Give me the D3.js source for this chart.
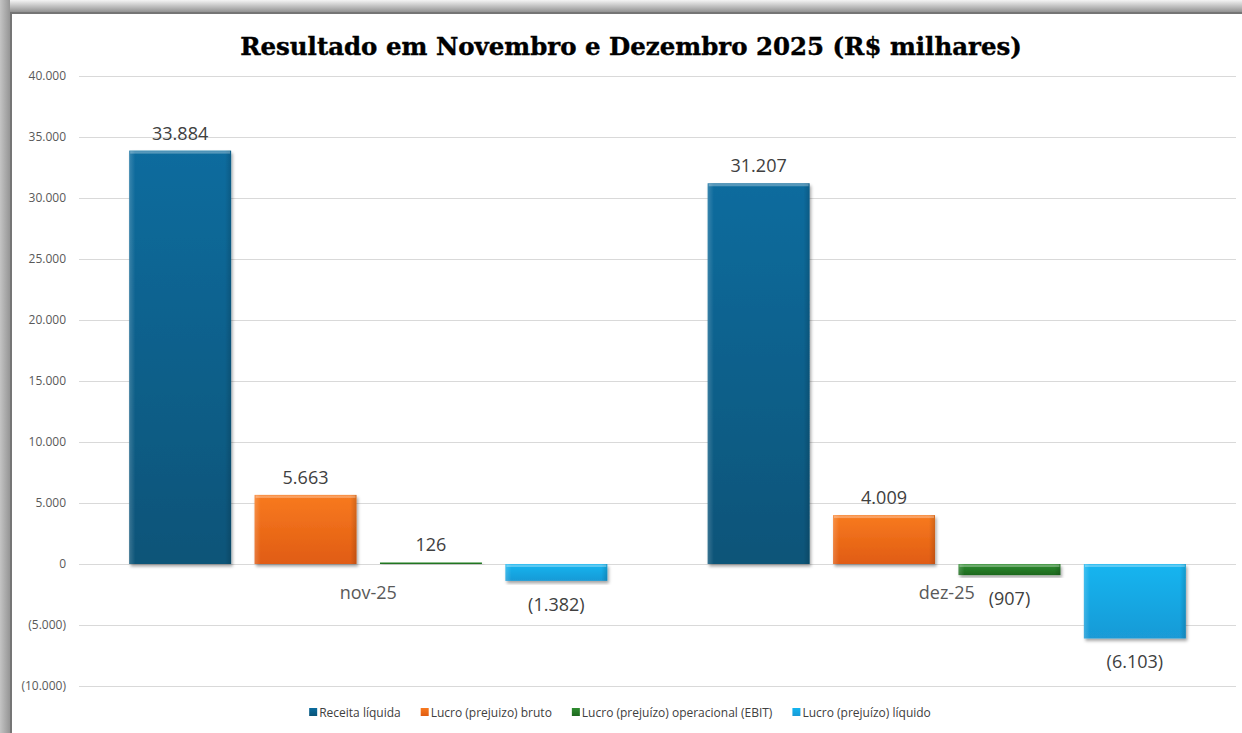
<!DOCTYPE html>
<html>
<head>
<meta charset="utf-8">
<script src="https://cdn.jsdelivr.net/npm/d3@7"></script>
<style>
body{margin:0;background:#fff;}
svg{display:block;}
</style>
</head>
<body>
<div id="chart-area"></div>
<script>
// ---------- DATA ----------
let categories=["nov-25","dez-25"];
let seriesNames=["Receita líquida","Lucro (prejuizo) bruto","Lucro (prejuízo) operacional (EBIT)","Lucro (prejuízo) líquido"];
let receita=[33884,31207];
let bruto=[5663,4009];
let ebit=[126,-907];
let liquido=[-1382,-6103];
let yTicks=[-10000,-5000,0,5000,10000,15000,20000,25000,30000,35000,40000];
let title="Resultado em Novembro e Dezembro 2025 (R$ milhares)";

let seriesValues=[receita,bruto,ebit,liquido];
let colorsTop=["#0b6c9e","#f87a20","#2f8d30","#12b5f0"];
let colorsBot=["#0a5478","#e05c12","#1d681e","#1a9ad6"];

let W=1242,H=733;

let svg=d3.select("#chart-area").append("svg")
	.attr("width",W)
	.attr("height",H);

let defs=svg.append("defs");

// frame gradients
let gTop=defs.append("linearGradient").attr("id","frameTop").attr("x1",0).attr("y1",0).attr("x2",0).attr("y2",1);
gTop.append("stop").attr("offset","0%").attr("stop-color","#f4f4f4");
gTop.append("stop").attr("offset","100%").attr("stop-color","#929292");
let gLeft=defs.append("linearGradient").attr("id","frameLeft").attr("x1",0).attr("y1",0).attr("x2",1).attr("y2",0);
gLeft.append("stop").attr("offset","0%").attr("stop-color","#c4c4c4");
gLeft.append("stop").attr("offset","100%").attr("stop-color","#959595");

// bar gradients
seriesNames.forEach(function(s,i){
	let lg=defs.append("linearGradient").attr("id","bar"+i).attr("x1",0).attr("y1",0).attr("x2",0).attr("y2",1);
	lg.append("stop").attr("offset","0%").attr("stop-color",colorsTop[i]);
	lg.append("stop").attr("offset","100%").attr("stop-color",colorsBot[i]);
});
let side=defs.append("linearGradient").attr("id","side").attr("x1",0).attr("y1",0).attr("x2",1).attr("y2",0);
side.append("stop").attr("offset","0%").attr("stop-color","#fff").attr("stop-opacity",0.18);
side.append("stop").attr("offset","6%").attr("stop-color","#fff").attr("stop-opacity",0);
side.append("stop").attr("offset","94%").attr("stop-color","#000").attr("stop-opacity",0);
side.append("stop").attr("offset","100%").attr("stop-color","#000").attr("stop-opacity",0.15);

let shadow=defs.append("filter").attr("id","shadow").attr("x","-10%").attr("y","-10%").attr("width","130%").attr("height","130%");
shadow.append("feDropShadow").attr("dx",1.5).attr("dy",2.5).attr("stdDeviation",1.8).attr("flood-color","#000").attr("flood-opacity",0.35);

// background + frame
svg.append("rect").attr("width",W).attr("height",H).attr("fill","#fff");
svg.append("rect").attr("x",0).attr("y",0).attr("width",W).attr("height",12).attr("fill","url(#frameTop)");
svg.append("rect").attr("x",0).attr("y",0).attr("width",10).attr("height",H).attr("fill","url(#frameLeft)");
svg.append("rect").attr("x",10).attr("y",12).attr("width",W-10).attr("height",2).attr("fill","#757575");
svg.append("rect").attr("x",10).attr("y",12).attr("width",2).attr("height",H-12).attr("fill","#757575");

// ---------- SCALES ----------
let y=d3.scaleLinear()
	.domain([-10000,40000])
	.range([686,76]);

let x0=d3.scaleBand()
	.domain(categories)
	.range([79,1236])
	.padding(0);

let x1=d3.scaleBand()
	.domain(d3.range(seriesNames.length))
	.range([0,x0.bandwidth()])
	.paddingInner(0.187)
	.paddingOuter(0.4);

let loc=d3.formatLocale({decimal:",",thousands:".",grouping:[3],currency:["R$",""]});
let fmtAbs=loc.format(",.0f");
function fmt(v){return v<0?"("+fmtAbs(-v)+")":fmtAbs(v);}

// ---------- GRID + AXIS ----------
let grid=svg.append("g");
grid.selectAll("line").data(yTicks).enter().append("line")
	.attr("x1",79).attr("x2",1236)
	.attr("y1",d=>Math.round(y(d))+0.5).attr("y2",d=>Math.round(y(d))+0.5)
	.attr("stroke","#d9d9d9").attr("stroke-width",1);

let yAxis=d3.axisLeft(y).tickValues(yTicks).tickFormat(fmt).tickSize(0).tickPadding(0);
let yAxisGroup=svg.append("g")
	.attr("transform","translate(66,0)")
	.call(yAxis);
yAxisGroup.select(".domain").remove();
yAxisGroup.selectAll("text")
	.attr("font-family","'Open Sans',sans-serif")
	.attr("font-size","12px")
	.attr("fill","#595959");

// ---------- BARS ----------
let groups=svg.selectAll(".cat").data(categories).enter().append("g")
	.attr("class","cat")
	.attr("transform",d=>"translate("+x0(d)+",0)");

groups.each(function(cat,ci){
	let g=d3.select(this);
	let rows=seriesValues.map(function(vals,si){return {si:si,v:vals[ci]};});
	g.selectAll("rect.bar").data(rows).enter().append("rect")
		.attr("class","bar")
		.attr("x",d=>x1(d.si))
		.attr("width",x1.bandwidth())
		.attr("y",d=>Math.min(y(d.v),y(0)))
		.attr("height",d=>Math.max(1.5,Math.abs(y(d.v)-y(0))))
		.attr("fill",d=>"url(#bar"+d.si+")")
		.attr("filter","url(#shadow)");
	// side bevel
	g.selectAll("rect.sd").data(rows.filter(d=>Math.abs(y(d.v)-y(0))>6)).enter().append("rect")
		.attr("class","sd")
		.attr("x",d=>x1(d.si))
		.attr("width",x1.bandwidth())
		.attr("y",d=>Math.min(y(d.v),y(0)))
		.attr("height",d=>Math.abs(y(d.v)-y(0)))
		.attr("fill","url(#side)");
	// top highlight
	g.selectAll("rect.hl").data(rows.filter(d=>Math.abs(y(d.v)-y(0))>6)).enter().append("rect")
		.attr("class","hl")
		.attr("x",d=>x1(d.si)+1)
		.attr("width",x1.bandwidth()-2)
		.attr("y",d=>Math.min(y(d.v),y(0))+0.5)
		.attr("height",2.5)
		.attr("fill","#fff")
		.attr("opacity",0.3);
	g.selectAll("text.val").data(rows).enter().append("text")
		.attr("class","val")
		.attr("x",d=>x1(d.si)+x1.bandwidth()/2)
		.attr("y",d=>d.v>=0?y(d.v)-11:y(d.v)+30)
		.attr("text-anchor","middle")
		.attr("font-family","'Open Sans',sans-serif")
		.attr("font-size","18px")
		.attr("fill","#404040")
		.text(d=>fmt(d.v));
	g.append("text")
		.attr("x",x0.bandwidth()/2)
		.attr("y",599)
		.attr("text-anchor","middle")
		.attr("font-family","'Open Sans',sans-serif")
		.attr("font-size","18px")
		.attr("fill","#595959")
		.text(cat);
});

// ---------- TITLE ----------
let titleText=svg.append("text")
	.attr("x",631)
	.attr("y",55)
	.attr("text-anchor","middle")
	.attr("font-family","'DejaVu Serif',serif")
	.attr("font-weight","bold")
	.attr("font-size","24px")
	.attr("fill","#000")
	.attr("stroke","#000")
	.attr("stroke-width",0.4)
	.text(title);
let tw=titleText.node().getComputedTextLength();
titleText.attr("font-size",(24*782/tw).toFixed(2)+"px");

// ---------- LEGEND ----------
let legend=svg.append("g");
let lx=0;
seriesNames.forEach(function(name,i){
	let row=legend.append("g").attr("transform","translate("+lx+",0)");
	row.append("rect").attr("x",0).attr("y",-9).attr("width",8).attr("height",8)
		.attr("fill","url(#bar"+i+")");
	let t=row.append("text").attr("x",10).attr("y",0)
		.attr("font-family","'Open Sans',sans-serif")
		.attr("font-size","12px")
		.attr("fill","#404040")
		.text(name);
	lx+=10+t.node().getComputedTextLength()+20;
});
let lw=lx-20;
legend.attr("transform","translate("+(620-lw/2)+",717)");
</script>
</body>
</html>
